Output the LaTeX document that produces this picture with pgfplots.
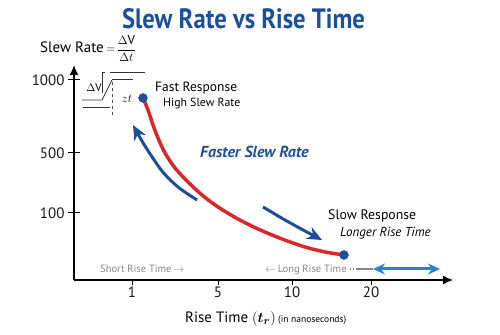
\documentclass[border=0pt]{standalone}
\usepackage{amsmath}
\usepackage{bm}
\usepackage{pgfplots}
\pgfplotsset{compat=1.18}
\usetikzlibrary{arrows.meta}
\usepackage{fontspec}
\setmainfont{PT Sans}
\definecolor{titleblue}{HTML}{1B4F9C}
\definecolor{curvered}{HTML}{D8282B}
\definecolor{dotblue}{HTML}{1D4E9E}
\definecolor{lightblue}{HTML}{2F7FD5}
\definecolor{txtgray}{HTML}{858585}
\begin{document}
\begin{tikzpicture}
\begin{axis}[
  at={(74bp,55bp)}, anchor=south west,
  scale only axis, width=379bp, height=215bp,
  xmin=74, xmax=453, ymin=55, ymax=270,
  axis lines=left,
  axis line style={line width=1.6bp, black, -{Latex[length=10bp,width=9bp]}},
  clip=false,
  xtick={132,218,292,371}, xticklabels={1,5,10,20},
  ytick={122,182,255}, yticklabels={100,500,1000},
  major tick length=12bp,
  xtick align=outside, ytick align=center,
  xtick style={/pgfplots/major tick length=5bp, line width=1bp, black},
  ytick style={line width=1bp, black},
  /pgf/number format/assume math mode=true,
  ticklabel style={font=\fontsize{15bp}{18bp}\selectfont, text=black!90},
  xticklabel style={anchor=center, yshift=0bp},
  yticklabel style={anchor=east},
]
% main curve
\addplot[smooth, curvered, line width=3.5bp] coordinates {
  (143,237) (148,225) (153,210) (158,197) (165,182) (175,167) (188,153)
  (202,140) (218,128) (238,116) (258,106) (282,96) (305,88) (325,83) (344,80)};
\addplot[only marks, mark=*, mark size=4.5bp, dotblue, mark options={draw=dotblue, fill=dotblue}] coordinates {(143,237) (344,80)};
% blue curved arrows
\addplot[smooth, dotblue, line width=3bp, -{Stealth[length=15bp,width=13bp]}] coordinates {
  (197,135) (178,148) (162,164) (145,189) (133,210)};
\addplot[smooth, dotblue, line width=3bp, -{Stealth[length=15bp,width=13bp]}] coordinates {
  (263,128) (285,115) (305,104) (322,95)};
% inset step diagram
\addplot[black!80, line width=0.8bp] coordinates {(105,263) (102,263) (102,242)};
\addplot[black!80, line width=0.8bp] coordinates {(110,263) (145,263)};
\addplot[black!80, line width=0.8bp] coordinates {(112,256) (133,256)};
\addplot[black!80, line width=0.8bp] coordinates {(82,235) (102,235) (112,255)};
\addplot[black!80, line width=0.8bp] coordinates {(83,228) (110,228)};
\addplot[black!70, line width=0.6bp, dashed] coordinates {(112,253) (112,220)};
\node[font=\fontsize{11bp}{13bp}\selectfont] at (axis cs:94,247) {$\Delta\mathrm{V}$};
\node[font=\fontsize{12bp}{14bp}\selectfont] at (axis cs:127,236) {$zt$};
% bottom helper arrows
\addplot[txtgray, line width=1.2bp, dotted] coordinates {(350,66) (358,66)};
\addplot[txtgray, line width=1.2bp] coordinates {(358,66) (373,66)};
\addplot[lightblue, line width=3bp, {Stealth[length=12bp,width=11bp]}-{Stealth[length=12bp,width=11bp]}] coordinates {(373,66) (440,66)};
% texts
\node[anchor=base, inner sep=0pt, font=\fontsize{28bp}{30bp}\selectfont\bfseries, text=titleblue] at (axis cs:243.5,306) {\scalebox{0.88}[1]{Slew Rate vs Rise Time}};
\node[anchor=base west, inner sep=0pt, font=\fontsize{15bp}{17bp}\selectfont] at (axis cs:40,282) {Slew Rate\,{\fontsize{13bp}{15bp}\selectfont$\displaystyle=\!\frac{\Delta\mathrm{V}}{\Delta t}$}};
\node[anchor=base west, inner sep=0pt, font=\fontsize{13.5bp}{16bp}\selectfont] at (axis cs:155,243) {Fast Response};
\node[anchor=base west, inner sep=0pt, font=\fontsize{11.8bp}{14bp}\selectfont] at (axis cs:163,228) {High Slew Rate};
\node[anchor=base west, inner sep=0pt, font=\fontsize{16bp}{18bp}\selectfont\bfseries\itshape, text=dotblue] at (axis cs:200,177) {Faster Slew Rate};
\node[anchor=base west, inner sep=0pt, font=\fontsize{13.8bp}{16bp}\selectfont] at (axis cs:328,115) {Slow Response};
\node[anchor=base west, inner sep=0pt, font=\fontsize{13bp}{16bp}\selectfont\itshape] at (axis cs:340,98) {Longer Rise Time};
\node[anchor=base west, inner sep=0pt, font=\fontsize{10.5bp}{12bp}\selectfont, text=txtgray] at (axis cs:100,63) {Short Rise Time\,$\rightarrow$};
\node[anchor=base west, inner sep=0pt, font=\fontsize{10.5bp}{12bp}\selectfont, text=txtgray] at (axis cs:265,63) {$\leftarrow$\,Long Rise Time};
\node[anchor=base west, inner sep=0pt, font=\fontsize{15bp}{18bp}\selectfont] at (axis cs:185,13) {Rise Time $(\bm{t_r})$\,{\fontsize{9.5bp}{11bp}\selectfont(in nanoseconds)}};
\end{axis}
\pgfresetboundingbox
\path[use as bounding box] (0,0) rectangle (500bp,335bp);
\end{tikzpicture}
\end{document}
